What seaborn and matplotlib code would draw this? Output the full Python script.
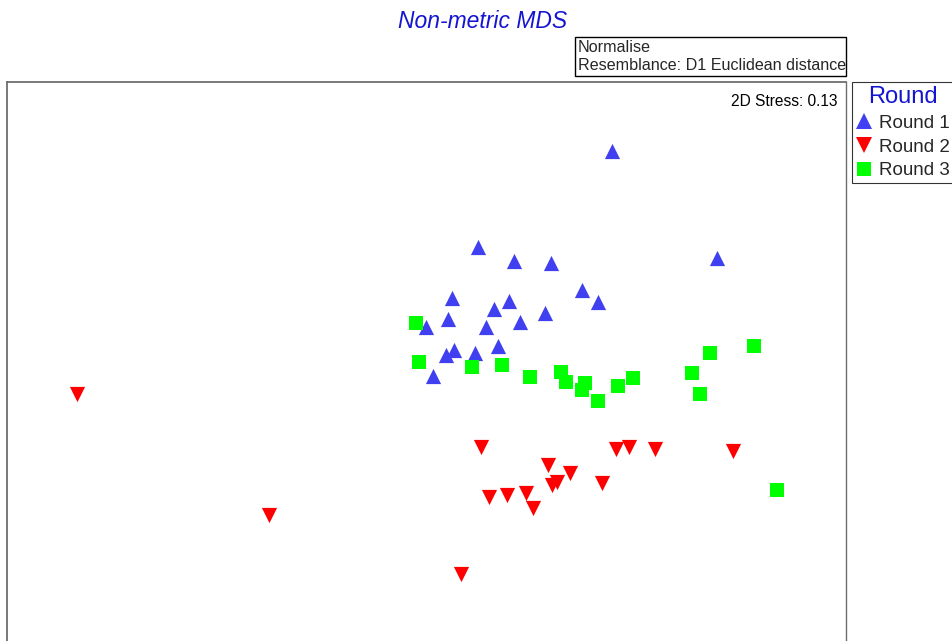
import matplotlib
matplotlib.use("Agg")
import matplotlib.pyplot as plt
from matplotlib.lines import Line2D
from matplotlib.patches import Rectangle
import seaborn as sns
import pandas as pd

# ---- data (MDS coordinates) ----
r1_x = [0.51, 0.87, 1.24, 0.25, 1.55, 1.71, 0.82, 0.67, 0.21, 1.18,
        0.93, 0.59, -0.01, 0.71, 0.27, 0.19, 0.48, 0.06, 1.85, 2.90]
r1_y = [1.13, 0.99, 0.97, 0.62, 0.70, 0.58, 0.59, 0.51, 0.41, 0.47,
        0.38, 0.33, 0.33, 0.14, 0.10, 0.05, 0.07, -0.16, 2.09, 1.02]

r2_x = [0.54, 0.62, 0.80, 0.99, 1.06, 1.21, 1.25, 1.30, 1.43, 1.75,
        1.89, 2.02, 2.28, 0.34, 3.06, -3.50, -1.58]
r2_y = [-0.87, -1.37, -1.35, -1.33, -1.48, -1.05, -1.25, -1.22, -1.13, -1.23,
        -0.89, -0.87, -0.89, -2.14, -0.91, -0.34, -1.55]

r3_x = [-0.11, -0.08, 0.45, 0.75, 1.03, 1.34, 1.39, 1.58, 1.55, 1.71,
        1.91, 2.06, 3.27, 2.83, 2.65, 2.73, 3.50]
r3_y = [0.37, -0.02, -0.07, -0.05, -0.17, -0.12, -0.22, -0.23, -0.30, -0.41,
        -0.26, -0.18, 0.14, 0.07, -0.13, -0.34, -1.30]

groups = ["Round 1", "Round 2", "Round 3"]
title = "Non-metric MDS"
stress_label = "2D Stress: 0.13"
note_lines = ["Normalise", "Resemblance: D1 Euclidean distance"]

df = pd.DataFrame({
    "MDS1": r1_x + r2_x + r3_x,
    "MDS2": r1_y + r2_y + r3_y,
    "Round": [groups[0]] * len(r1_x) + [groups[1]] * len(r2_x) + [groups[2]] * len(r3_x),
})

colors = {"Round 1": "#4040f0", "Round 2": "#ff0000", "Round 3": "#00ff00"}
markers = {"Round 1": "^", "Round 2": "v", "Round 3": "s"}
sizes = {"Round 1": 120, "Round 2": 120, "Round 3": 100}

sns.set_style("white")
plt.rcParams["font.family"] = ["Liberation Sans", "DejaVu Sans"]

W, H = 953, 641
fig = plt.figure(figsize=(W / 100, H / 100), dpi=100)
ax = fig.add_axes([7 / W, 0, (846 - 7) / W, (641 - 82) / H])

for g in groups:
    sub = df[df["Round"] == g]
    sns.scatterplot(data=sub, x="MDS1", y="MDS2", ax=ax, color=colors[g],
                    marker=markers[g], s=sizes[g], linewidth=0, legend=False)

ax.set_xlim(-4.20, 4.19)
ax.set_ylim(-2.81, 2.78)
ax.set_xticks([])
ax.set_yticks([])
ax.set_xlabel("")
ax.set_ylabel("")
for side in ["left", "top"]:
    ax.spines[side].set_color("#6e6e6e")
    ax.spines[side].set_linewidth(1.3)
ax.spines["right"].set_color("#6e6e6e")
ax.spines["right"].set_linewidth(1.0)
ax.spines["bottom"].set_visible(False)

ax.text(0.990, 0.978, stress_label, transform=ax.transAxes, ha="right", va="top",
        fontsize=11.2, color="black")

fig.text(483 / W, 1 - 22 / H, title, ha="center", va="center", fontsize=16.5,
         style="italic", color="#1414d2")

# annotation box
fig.patches.append(Rectangle((575 / W, 1 - 76 / H), (846 - 575) / W, (76 - 37) / H,
                             transform=fig.transFigure, facecolor="white",
                             edgecolor="black", linewidth=1.0))
fig.text(578 / W, 1 - 47 / H, note_lines[0], ha="left", va="center", fontsize=11.6)
fig.text(578 / W, 1 - 66 / H, note_lines[1], ha="left", va="center", fontsize=11.6)

handles = [Line2D([], [], linestyle="none", marker=markers[g], color=colors[g],
                  markersize=12 if g != "Round 3" else 10.5, markeredgewidth=0)
           for g in groups]
leg = fig.legend(handles, groups, loc="upper left",
                 bbox_to_anchor=(852 / W, 1 - 82 / H), borderaxespad=0,
                 title="Round", fontsize=13.5, title_fontsize=17,
                 frameon=True, fancybox=False, handlelength=0.85,
                 handletextpad=0.4, borderpad=0.2, labelspacing=0.36,
                 edgecolor="black")
leg.get_title().set_color("#1414d2")
leg.get_frame().set_linewidth(0.8)

fig.savefig("out.png", dpi=100)
